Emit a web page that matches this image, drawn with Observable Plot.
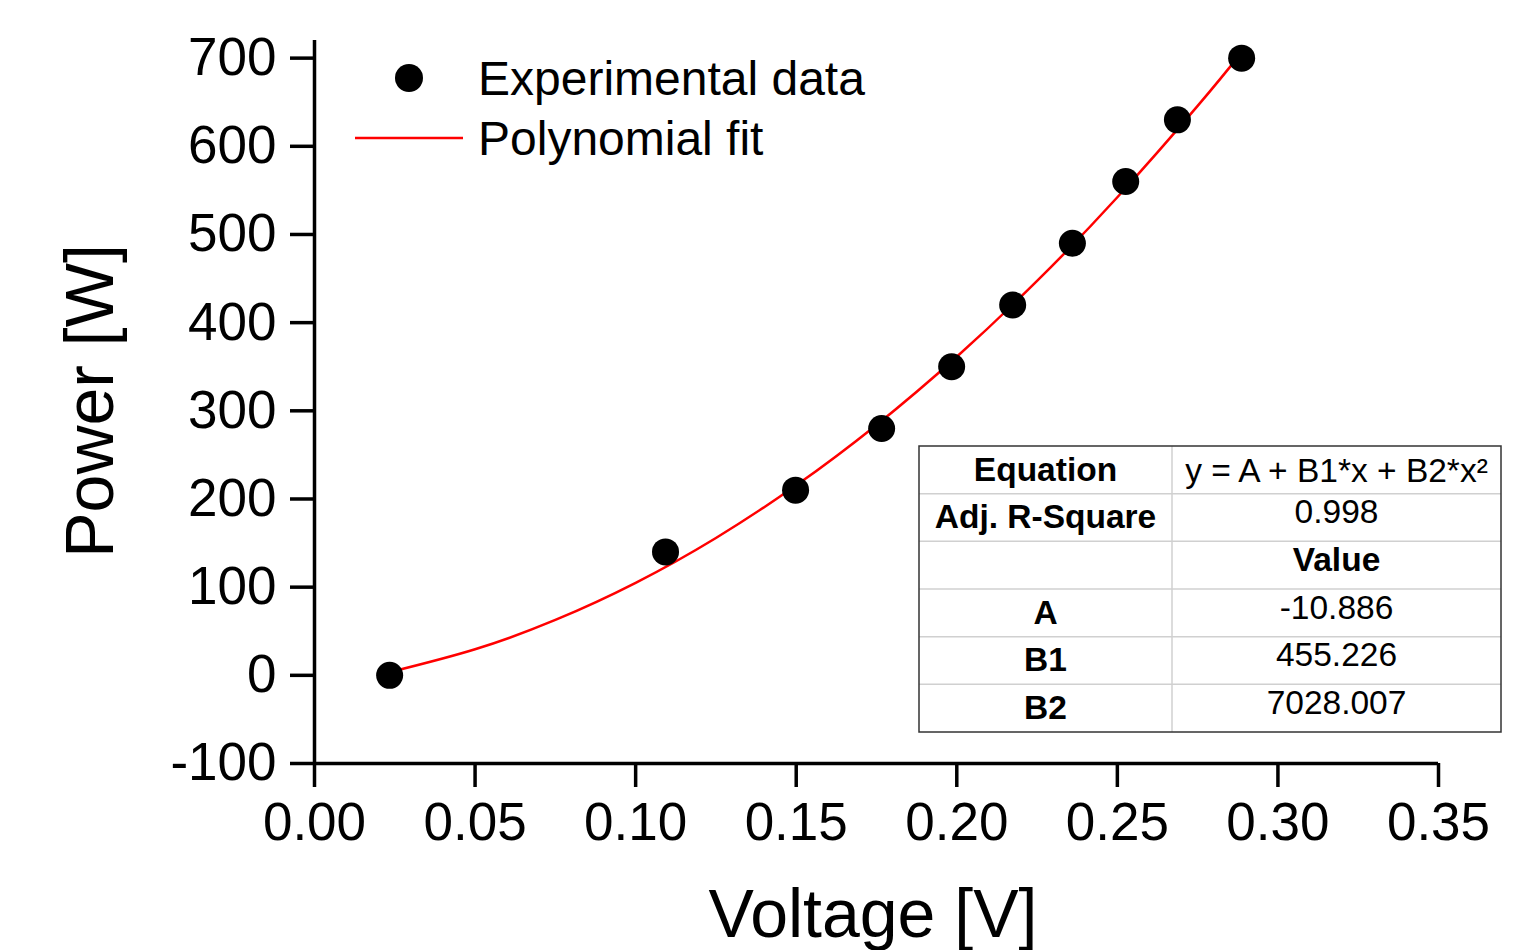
<!DOCTYPE html>
<html>
<head>
<meta charset="utf-8">
<script src="https://cdn.jsdelivr.net/npm/d3@7"></script>
<script src="https://cdn.jsdelivr.net/npm/@observablehq/plot@0.6"></script>
<style>
  html, body { margin: 0; padding: 0; background: white; }
  #chart svg { display: block; }
</style>
</head>
<body>
<div id="chart"></div>
<script>
const voltage = [0.0234, 0.1093, 0.1498, 0.1766, 0.1984, 0.2174, 0.2360, 0.2526, 0.2687, 0.2887];
const power   = [0, 140, 210, 280, 350, 420, 490, 560, 630, 700];

// Polynomial fit curve
const fitVoltage = [0.024, 0.05, 0.075, 0.10, 0.125, 0.15, 0.175, 0.20, 0.225, 0.25, 0.275, 0.289];
const fitPower   = [4.1, 29.5, 62.8, 104.9, 155.8, 215.5, 284.0, 361.3, 447.3, 542.2, 645.8, 707.7];

// Axis ticks
const xTicks = [0, 0.05, 0.10, 0.15, 0.20, 0.25, 0.30, 0.35];
const yTicks = [-100, 0, 100, 200, 300, 400, 500, 600, 700];

// Legend
const legendLabels = ["Experimental data", "Polynomial fit"];

// Fit results table
const tableLeft  = ["Equation", "Adj. R-Square", "", "A", "B1", "B2"];
const tableRight = ["y = A + B1*x + B2*x\u00B2", "0.998", "Value", "-10.886", "455.226", "7028.007"];
const tableRightBold = [false, false, true, false, false, false];

const points = voltage.map((v, i) => ({v, p: power[i]}));
const fit = fitVoltage.map((v, i) => ({v, p: fitPower[i]}));

const FONT = "'Liberation Sans', Arial, sans-serif";

const chart = Plot.plot({
  width: 1536,
  height: 950,
  marginLeft: 314,
  marginRight: 98,
  marginTop: 40,
  marginBottom: 187,
  x: {domain: [0, 0.35]},
  y: {domain: [-100, 720]},
  style: {fontFamily: FONT, color: "black", background: "white", overflow: "visible"},
  marks: [
    Plot.axisX({ticks: xTicks, tickFormat: d3.format(".2f"), tickSize: 24, tickPadding: 15,
                fontSize: 53, strokeWidth: 3.5, label: null}),
    Plot.axisY({ticks: yTicks, tickFormat: d => String(d), tickSize: 24, tickPadding: 14,
                fontSize: 53, strokeWidth: 3.5, label: null}),
    Plot.ruleX([0], {strokeWidth: 3.5, stroke: "black"}),
    Plot.ruleY([-100], {strokeWidth: 3.5, stroke: "black"}),
    Plot.line(fit, {x: "v", y: "p", stroke: "red", strokeWidth: 2.5, curve: "natural"}),
    Plot.dot(points, {x: "v", y: "p", r: 13.5, fill: "black", stroke: "none"})
  ]
});

document.getElementById("chart").appendChild(chart);

const svg = d3.select(chart);

// Axis titles
svg.append("text")
  .attr("x", 873).attr("y", 937)
  .attr("text-anchor", "middle")
  .attr("font-family", FONT).attr("font-size", 68).attr("fill", "black")
  .text("Voltage [V]");
svg.append("text")
  .attr("transform", "translate(113,401) rotate(-90)")
  .attr("text-anchor", "middle")
  .attr("font-family", FONT).attr("font-size", 68).attr("fill", "black")
  .text("Power [W]");

// Legend
const lg = svg.append("g").attr("font-family", FONT).attr("font-size", 48)
  .attr("fill", "black").attr("text-anchor", "start");
lg.append("circle").attr("cx", 409).attr("cy", 78).attr("r", 14).attr("fill", "black");
lg.append("line").attr("x1", 355).attr("x2", 463).attr("y1", 138).attr("y2", 138)
  .attr("stroke", "red").attr("stroke-width", 2.5);
lg.append("text").attr("x", 478).attr("y", 78).attr("dy", "0.35em").text(legendLabels[0]);
lg.append("text").attr("x", 478).attr("y", 138).attr("dy", "0.35em").text(legendLabels[1]);

// Table
const tx0 = 919, tx1 = 1172, tx2 = 1501, ty0 = 446, ty1 = 732;
const rowH = (ty1 - ty0) / tableLeft.length;
const tg = svg.append("g").attr("font-family", FONT).attr("font-size", 33.5).attr("fill", "black");
tg.append("rect").attr("x", tx0).attr("y", ty0).attr("width", tx2 - tx0).attr("height", ty1 - ty0)
  .attr("fill", "white").attr("stroke", "none");
for (let i = 1; i < tableLeft.length; i++) {
  tg.append("line").attr("x1", tx0).attr("x2", tx2)
    .attr("y1", ty0 + i * rowH).attr("y2", ty0 + i * rowH)
    .attr("stroke", "#d0d0d0").attr("stroke-width", 1.5);
}
tg.append("line").attr("x1", tx1).attr("x2", tx1).attr("y1", ty0).attr("y2", ty1)
  .attr("stroke", "#d0d0d0").attr("stroke-width", 1.5);
tg.append("rect").attr("x", tx0).attr("y", ty0).attr("width", tx2 - tx0).attr("height", ty1 - ty0)
  .attr("fill", "none").attr("stroke", "#333").attr("stroke-width", 1.5);
tableLeft.forEach((t, i) => {
  const bottom = ty0 + (i + 1) * rowH;
  tg.append("text").attr("x", (tx0 + tx1) / 2).attr("y", bottom - 13)
    .attr("text-anchor", "middle").attr("font-weight", "bold").text(t);
  tg.append("text").attr("x", (tx1 + tx2) / 2).attr("y", bottom - (i === 0 ? 12 : 18))
    .attr("text-anchor", "middle").attr("font-weight", tableRightBold[i] ? "bold" : "normal")
    .text(tableRight[i]);
});
</script>
</body>
</html>
